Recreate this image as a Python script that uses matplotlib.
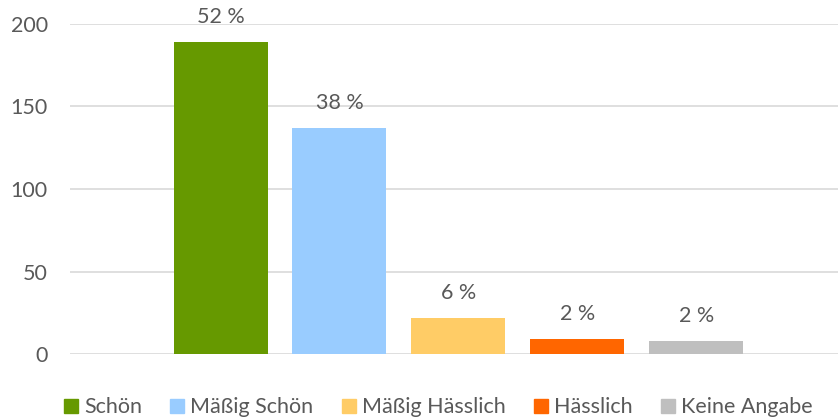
import matplotlib
matplotlib.use("Agg")
import matplotlib.pyplot as plt
from matplotlib.patches import Patch

# --- data ---
categories = ["Schön", "Mäßig Schön", "Mäßig Hässlich", "Hässlich", "Keine Angabe"]
counts = [189, 137, 22, 9, 8]
pct_labels = ["52 %", "38 %", "6 %", "2 %", "2 %"]
colors = ["#669900", "#99CCFF", "#FFCC66", "#FF6600", "#BFBFBF"]

plt.rcParams["font.family"] = ["Lato", "DejaVu Sans"]
text_col = "#595959"
fs = 15.5

fig = plt.figure(figsize=(8.38, 4.18), dpi=100)
ax = fig.add_axes([70 / 838, 64 / 418, 768 / 838, 330 / 418])

n = len(categories)
width = 0.79
for i, (cat, val, lab, col) in enumerate(zip(categories, counts, pct_labels, colors)):
    x = i - (n - 1) / 2
    ax.bar(x, val, width=width, color=col, label=cat, zorder=3)
    ax.text(x, val + 9, lab, ha="center", va="bottom", fontsize=fs,
            color=text_col, clip_on=False)

ax.set_xlim(-3.265, 3.19)
ax.set_ylim(0, 200)
ax.set_yticks([0, 50, 100, 150, 200])
ax.yaxis.grid(True, color="#D9D9D9", linewidth=1.2, zorder=0)
ax.set_xticks([])
ax.tick_params(axis="y", length=0, pad=16, labelsize=fs, labelcolor=text_col)
for s in ax.spines.values():
    s.set_visible(False)

handles = [Patch(color=c) for c in colors]
fig.legend(handles, categories, loc="lower center", ncol=n, frameon=False,
           bbox_to_anchor=(0.523, -0.045), fontsize=fs, labelcolor=text_col,
           handlelength=0.65, handleheight=0.65, handletextpad=0.3,
           columnspacing=1.3)

fig.savefig("out.png", dpi=100)
